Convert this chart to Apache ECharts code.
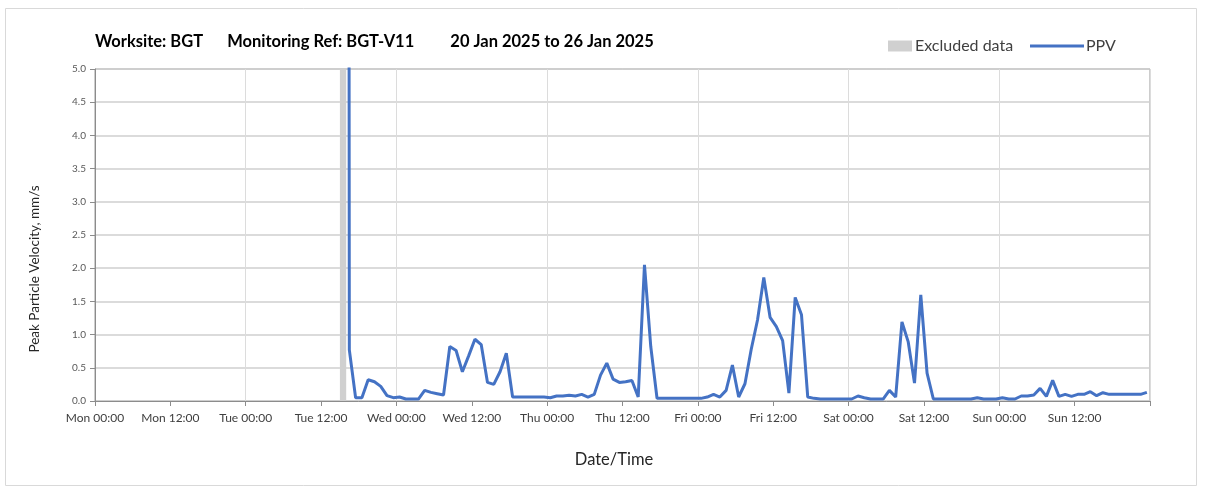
<!DOCTYPE html>
<html>
<head>
<meta charset="utf-8">
<script src="https://cdn.jsdelivr.net/npm/echarts@6/dist/echarts.min.js"></script>
<style>
  html, body { margin: 0; padding: 0; background: #fff; }
  #chart { width: 1208px; height: 493px; }
</style>
</head>
<body>
<div id="chart"></div>
<script>
// x axis in hours from Mon 20 Jan 00:00
const tickLabels = ['Mon 00:00', 'Mon 12:00', 'Tue 00:00', 'Tue 12:00', 'Wed 00:00', 'Wed 12:00',
  'Thu 00:00', 'Thu 12:00', 'Fri 00:00', 'Fri 12:00', 'Sat 00:00', 'Sat 12:00',
  'Sun 00:00', 'Sun 12:00', ''];
const excluded = [39, 40];          // Tue 15:00 - 16:00
const spike = [40.4, 12];           // off-scale reading right after the excluded block
const ppvStart = 40.5;              // first hourly reading
const ppv = [
  0.77, 0.05, 0.05, 0.32, 0.29, 0.22, 0.08, 0.05, 0.06, 0.03,
  0.03, 0.03, 0.16, 0.13, 0.11, 0.09, 0.82, 0.76, 0.44, 0.68,
  0.93, 0.85, 0.28, 0.25, 0.44, 0.72, 0.06, 0.06, 0.06, 0.06,
  0.06, 0.06, 0.05, 0.075, 0.075, 0.085, 0.075, 0.10, 0.06, 0.10,
  0.39, 0.57, 0.33, 0.28, 0.29, 0.31, 0.06, 2.05, 0.82, 0.04,
  0.04, 0.04, 0.04, 0.04, 0.04, 0.04, 0.04, 0.06, 0.10, 0.06,
  0.16, 0.54, 0.06, 0.26, 0.78, 1.22, 1.86, 1.26, 1.12, 0.91,
  0.12, 1.56, 1.30, 0.06, 0.04, 0.03, 0.03, 0.03, 0.03, 0.03,
  0.03, 0.075, 0.05, 0.03, 0.03, 0.03, 0.16, 0.06, 1.19, 0.89,
  0.27, 1.60, 0.42, 0.03, 0.03, 0.03, 0.03, 0.03, 0.03, 0.03,
  0.05, 0.03, 0.03, 0.03, 0.05, 0.03, 0.03, 0.075, 0.075, 0.09,
  0.19, 0.07, 0.31, 0.07, 0.10, 0.07, 0.10, 0.10, 0.14, 0.08,
  0.125, 0.10, 0.10, 0.10, 0.10, 0.10, 0.10, 0.13
];

const font = 'Lato, "Open Sans", sans-serif';
const blue = '#4472c4';
let ppvData = [spike];
ppv.forEach((v, i) => ppvData.push([ppvStart + i, v]));

let myChart = echarts.init(document.getElementById('chart'));
myChart.setOption({
  animation: false,
  textStyle: { fontFamily: font },
  title: {
    text: 'Worksite: BGT      Monitoring Ref: BGT-V11         20 Jan 2025 to 26 Jan 2025',
    left: 90,
    top: 28,
    textStyle: { fontSize: 16.5, fontWeight: 'bold', color: '#000', fontFamily: font }
  },
  legend: [
    {
      data: [{ name: 'Excluded data', icon: 'rect' }],
      left: 883, top: 33,
      itemWidth: 24, itemHeight: 11, itemGap: 3,
      textStyle: { fontSize: 16, color: '#404040', padding: [0, 0, 0, -2] }
    },
    {
      data: [{ name: 'PPV', icon: 'rect' }],
      left: 1025, top: 33,
      itemWidth: 54, itemHeight: 3,
      textStyle: { fontSize: 16, color: '#404040', padding: [0, 0, 0, -3] }
    }
  ],
  grid: {
    left: 95, right: 58, top: 69, bottom: 92,
    show: true, borderColor: '#9a9a9a', borderWidth: 1
  },
  graphic: [
    {
      type: 'rect',
      shape: { x: 5.5, y: 8.5, width: 1191, height: 477 },
      style: { fill: 'none', stroke: '#d9d9d9', lineWidth: 1 },
      silent: true, z: -1
    },
    {
      type: 'text',
      x: 35, y: 269, rotation: Math.PI / 2,
      style: {
        text: 'Peak Particle Velocity, mm/s', fontFamily: font, fontSize: 13.5,
        fill: '#262626', align: 'center', verticalAlign: 'middle'
      }
    },
    {
      type: 'text',
      x: 614, y: 460,
      style: {
        text: 'Date/Time', fontFamily: font, fontSize: 16.5,
        fill: '#262626', align: 'center', verticalAlign: 'middle'
      }
    }
  ],
  xAxis: [
    {
      type: 'value', min: 0, max: 168, interval: 12,
      axisLine: { lineStyle: { color: '#8c8c8c', width: 1 } },
      axisTick: { show: true, length: 5, lineStyle: { color: '#8c8c8c' } },
      axisLabel: {
        fontSize: 12, color: '#404040', margin: 11,
        formatter: v => tickLabels[Math.round(v / 12)]
      },
      splitLine: { show: false }
    },
    {
      type: 'value', min: 0, max: 168, interval: 24,
      axisLine: { show: false }, axisTick: { show: false }, axisLabel: { show: false },
      splitLine: { show: true, lineStyle: { color: '#dcdcdc', width: 1 } }
    }
  ],
  yAxis: {
    type: 'value', min: 0, max: 5, interval: 0.5,
    axisLine: { show: true, lineStyle: { color: '#8c8c8c', width: 1 } },
    axisTick: { show: true, length: 5, lineStyle: { color: '#8c8c8c' } },
    axisLabel: { fontSize: 10, color: '#595959', margin: 9, formatter: v => v.toFixed(1) },
    splitLine: { show: true, lineStyle: { color: '#cfcfcf', width: 1.5 } }
  },
  series: [
    {
      name: 'Excluded data',
      type: 'line',
      data: [],
      itemStyle: { color: '#d0d0d0' },
      markArea: {
        silent: true,
        itemStyle: { color: '#d0d0d0' },
        data: [[{ xAxis: excluded[0] }, { xAxis: excluded[1] }]]
      }
    },
    {
      name: 'PPV',
      type: 'line',
      data: ppvData,
      symbol: 'none',
      clip: true,
      lineStyle: { color: blue, width: 3 },
      itemStyle: { color: blue },
      z: 3
    }
  ]
});
</script>
</body>
</html>
